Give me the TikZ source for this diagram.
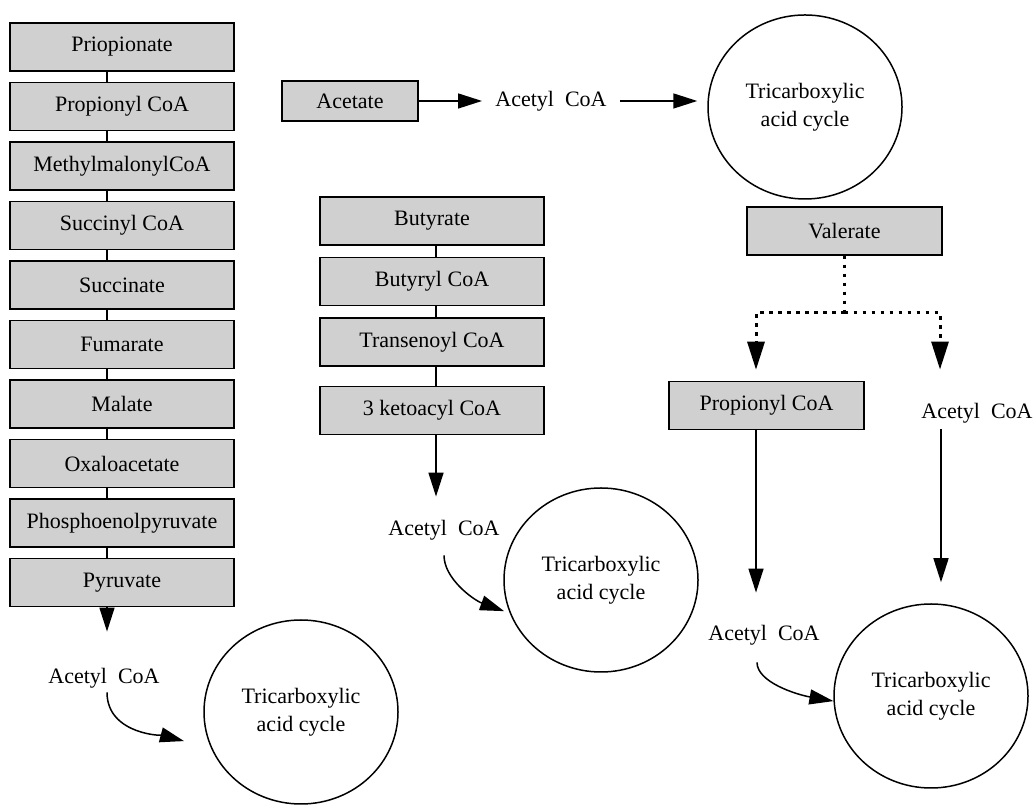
\documentclass[tikz,border=0pt]{standalone}
\usepackage{fontspec}
\setmainfont{Liberation Serif}
\usetikzlibrary{positioning,shapes.geometric,arrows.meta}
\definecolor{boxgray}{HTML}{D0D0D0}
\tikzset{
stagebox/.style={draw,fill=boxgray,line width=0.75pt,minimum width=112pt,minimum height=24pt,inner sep=0pt,font=\fontsize{11}{13}\selectfont},
tcacycle/.style={draw,ellipse,line width=0.75pt,minimum width=97pt,minimum height=92pt,inner sep=0pt,align=center,font=\fontsize{11}{14}\selectfont},
metab/.style={inner sep=0pt,font=\fontsize{11}{13}\selectfont},
link/.style={line width=0.75pt},
flow/.style={line width=0.75pt,-{Triangle[length=12pt,width=7.5pt]}},
dotlink/.style={line width=1.5pt,dash pattern=on 1.75pt off 2.75pt},
dotflow/.style={dotlink,-{Triangle[length=14pt,width=8.5pt]}}
}

\begin{document}
\begin{tikzpicture}[x=0.5pt,y=0.5pt]
\useasboundingbox (0,0) rectangle (1036,806);
\node[stagebox] (pri) at (122,759) {Priopionate};
\node[stagebox,below=5pt of pri] (prc) {Propionyl CoA};
\node[stagebox,below=5pt of prc] (mmc) {MethylmalonylCoA};
\node[stagebox,below=5pt of mmc] (suc) {Succinyl CoA};
\node[stagebox,below=5pt of suc] (sct) {Succinate};
\node[stagebox,below=5pt of sct] (fum) {Fumarate};
\node[stagebox,below=5pt of fum] (mal) {Malate};
\node[stagebox,below=5pt of mal] (oxa) {Oxaloacetate};
\node[stagebox,below=5pt of oxa] (pep) {Phosphoenolpyruvate};
\node[stagebox,below=5pt of pep] (pyr) {Pyruvate};
\draw[link] ([xshift=-7.5pt]pri.south) -- ([xshift=-7.5pt]prc.north);
\draw[link] ([xshift=-7.5pt]prc.south) -- ([xshift=-7.5pt]mmc.north);
\draw[link] ([xshift=-7.5pt]mmc.south) -- ([xshift=-7.5pt]suc.north);
\draw[link] ([xshift=-7.5pt]suc.south) -- ([xshift=-7.5pt]sct.north);
\draw[link] ([xshift=-7.5pt]sct.south) -- ([xshift=-7.5pt]fum.north);
\draw[link] ([xshift=-7.5pt]fum.south) -- ([xshift=-7.5pt]mal.north);
\draw[link] ([xshift=-7.5pt]mal.south) -- ([xshift=-7.5pt]oxa.north);
\draw[link] ([xshift=-7.5pt]oxa.south) -- ([xshift=-7.5pt]pep.north);
\draw[link] ([xshift=-7.5pt]pep.south) -- ([xshift=-7.5pt]pyr.north);
\node[metab] (acl2) at (104,128) {Acetyl~~CoA};
\node[tcacycle] (tca3) at (301,94) {Tricarboxylic\\acid cycle};
\draw[flow,shorten >=18pt] ([xshift=-7.5pt]pyr.south) -- ([xshift=-7.5pt]pyr.south |- acl2.north);
\draw[flow,shorten <=2pt,shorten >=14pt] ([xshift=1.5pt]acl2.south) to[out=-90,in=165] (tca3.202);

\node[stagebox,minimum width=68pt,minimum height=20pt] (ace) at (350,705) {Acetate};
\node[metab] (acl1) at (551,705) {Acetyl~~CoA};
\node[tcacycle] (tca1) at (805,699) {Tricarboxylic\\acid cycle};
\draw[flow,shorten >=6.5pt] (ace) -- (acl1);
\draw[flow,shorten <=6.5pt,shorten >=5pt] (acl1) -- (acl1 -| tca1.west);

\node[stagebox] (but) at (432,585) {Butyrate};
\node[stagebox,below=5.5pt of but] (byc) {Butyryl CoA};
\node[stagebox,below=5.5pt of byc] (tsc) {Transenoyl CoA};
\node[stagebox,below=9.5pt of tsc] (ket) {3 ketoacyl CoA};
\draw[link] ([xshift=2pt]but.south) -- ([xshift=2pt]byc.north);
\draw[link] ([xshift=2pt]byc.south) -- ([xshift=2pt]tsc.north);
\draw[link] ([xshift=2pt]tsc.south) -- ([xshift=2pt]ket.north);
\node[metab] (acl3) at (444,276) {Acetyl~~CoA};
\node[tcacycle] (tca2) at (601,226) {Tricarboxylic\\acid cycle};
\draw[flow,shorten >=11.5pt] ([xshift=2pt]ket.south) -- ([xshift=2pt]ket.south |- acl3.north);
\draw[flow,shorten <=7.5pt,shorten >=3pt] (acl3.south) to[out=-90,in=160] (tca2.200);

\node[stagebox,minimum width=97.5pt] (val) at (844.5,575) {Valerate};
\coordinate (jn) at (844.5,493);
\node[stagebox,minimum width=97.5pt] (pro2) at (766.5,400.5) {Propionyl CoA};
\node[metab] (acl4) at (977,393) {Acetyl~~CoA};
\draw[dotlink] (val) -- (jn);
\draw[dotflow,shorten >=5.5pt] (jn) -| ([xshift=-5.25pt]pro2.north);
\draw[dotflow,shorten >=16.5pt] (jn) -| ([xshift=-18.5pt]acl4.north);
\node[metab] (acl5) at (764,171) {Acetyl~~CoA};
\node[tcacycle] (tca4) at (931,110) {Tricarboxylic\\acid cycle};
\draw[flow,shorten >=16pt] ([xshift=-5.25pt]pro2.south) -- ([xshift=-5.25pt]pro2.south |- acl5.north);
\draw[flow,shorten <=3pt,shorten >=10.5pt] ([xshift=-18pt]acl4.south) -- ([xshift=-18pt]acl4.south |- tca4.north);
\draw[flow,shorten <=8.5pt] ([xshift=-3.5pt]acl5.south) to[out=-90,in=170] (tca4.183);
\end{tikzpicture}
\end{document}
